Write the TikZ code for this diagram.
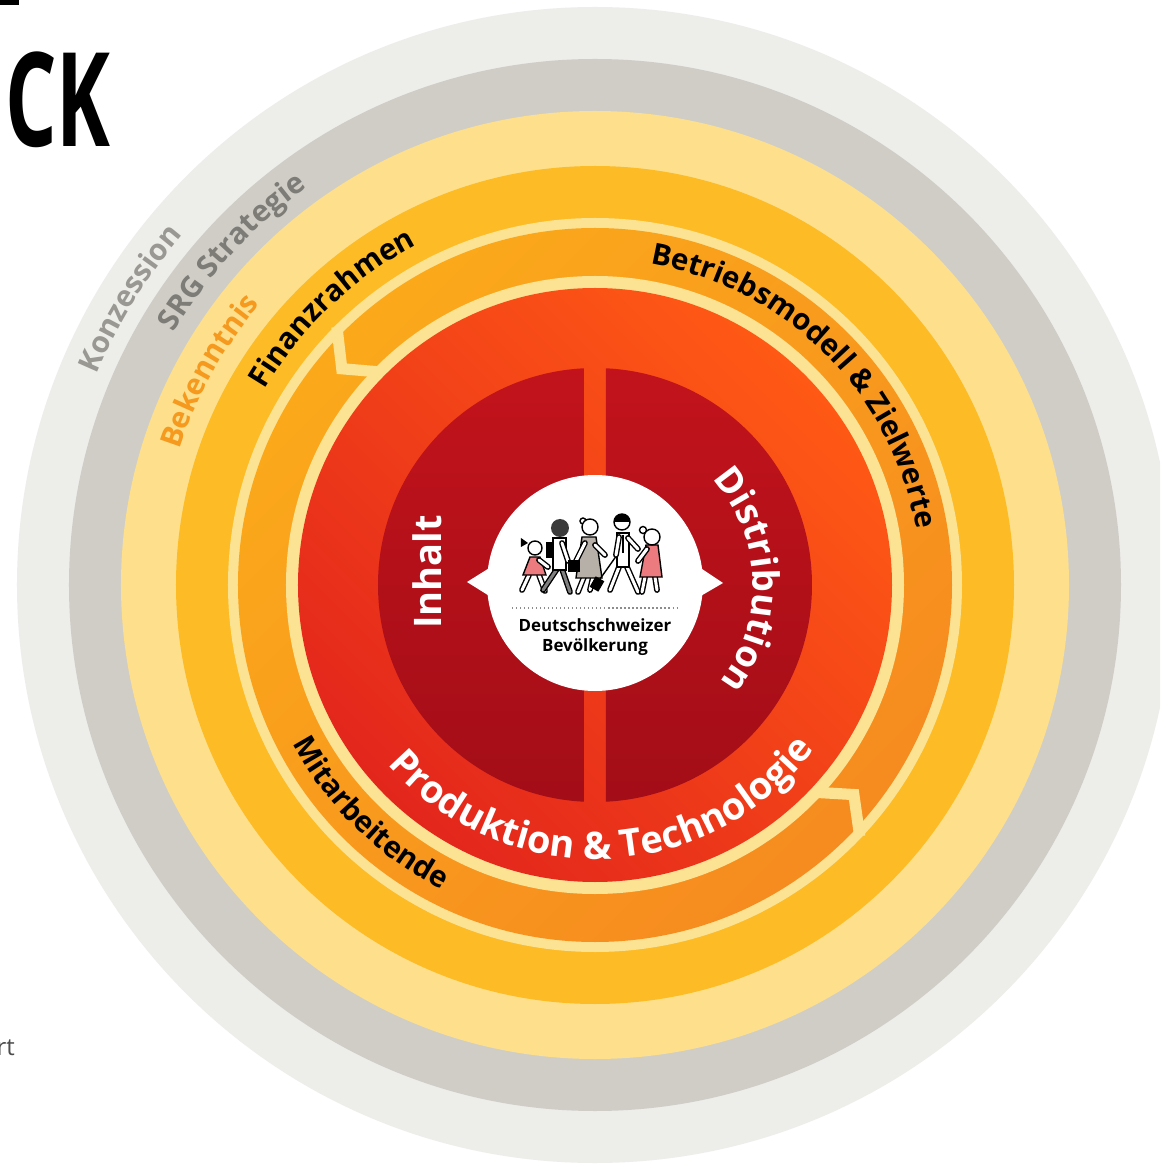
\documentclass[tikz,border=0pt]{standalone}
\usepackage{fontspec}
\setmainfont{Open Sans}
\usetikzlibrary{decorations.text}
\definecolor{ringlight}{HTML}{EDEDEA}
\definecolor{ringgrey}{HTML}{CFCDC6}
\definecolor{ringyellow}{HTML}{FEE08C}
\definecolor{ringgold}{HTML}{FDBB26}
\definecolor{cream}{HTML}{FCE293}
\definecolor{orangeL}{HTML}{FBA91B}
\definecolor{orangeR}{HTML}{F68B1F}
\definecolor{redL}{HTML}{E3261C}
\definecolor{redR}{HTML}{FF5915}
\definecolor{darkredT}{HTML}{C2131C}
\definecolor{darkredB}{HTML}{A30D17}
\definecolor{konzgrey}{HTML}{9A9893}
\definecolor{srggrey}{HTML}{7E7C77}
\definecolor{bekorange}{HTML}{F59A1E}
\definecolor{pinkdress}{HTML}{EC7B80}
\definecolor{coatgrey}{HTML}{B6B0A8}
\definecolor{hairgrey}{HTML}{3A3A3A}

\begin{document}
\begin{tikzpicture}[x=0.025cm,y=0.025cm,
  sep/.style={draw=cream,line width=0.28cm,line join=miter},
  arctext/.style={decorate,decoration={text along path,text align=center,#1}},
  outl/.style={draw=black,line width=0.035cm},
  limb/.style={draw=black,line width=0.035cm,double=#1,double distance=0.075cm,line cap=round},
  limb/.default=white]
\useasboundingbox (-595,-579) rectangle (565,585);
\clip (-595,-579) rectangle (565,585);
\fill[white] (-595,-579) rectangle (565,585);
% page fragments
\fill (-595,585) rectangle (-576,580);
\node[anchor=base west,inner sep=0,xscale=0.62,font=\fontsize{93}{93}\selectfont\bfseries] (ck) at (-590,438) {CK};
\node[anchor=base east,inner sep=0,text=black!70,font=\fontsize{17}{17}\selectfont] (rt) at (-580,-470) {rt};
% rings
\fill[ringlight] (0,0) circle (578);
\fill[ringgrey] (0,0) circle (526);
\fill[ringyellow] (0,0) circle (474);
\fill[ringgold] (0,0) circle (419);
\fill[cream] (0,0) circle (367);
\shade[top color=orangeL,bottom color=orangeR,shading angle=45] (0,0) circle (357);
\fill[cream] (0,0) circle (309);
\shade[top color=redR,bottom color=redL,shading angle=-45] (0,0) circle (297);
\begin{scope}
\clip (0,0) circle (217);
\shade[top color=darkredT,bottom color=darkredB] (-217,-217) rectangle (-11,217);
\shade[top color=darkredT,bottom color=darkredB] (11,-217) rectangle (217,217);
\end{scope}
% arrow joints
\draw[sep] (135:365) -- (139.5:333) -- (135:301);
\draw[sep] (-43.5:365) -- (-39:333) -- (-43.5:301);
% ring labels
\path[arctext={text={|\fontsize{21}{21}\selectfont\bfseries|Konzession},text color=konzgrey}]
  (168.4:541) arc[start angle=168.4,end angle=128.4,radius=541];
\path[arctext={text={|\fontsize{21}{21}\selectfont\bfseries|SRG Strategie},text color=srggrey}]
  (160:491) arc[start angle=160,end angle=115,radius=491];
\path[arctext={text={|\fontsize{21}{21}\selectfont\bfseries|Bekenntnis},text color=bekorange}]
  (175:437) arc[start angle=175,end angle=127,radius=437];
\path[arctext={text={|\fontsize{21}{21}\selectfont\bfseries|Finanzrahmen},text color=black}]
  (160:384) arc[start angle=160,end angle=107,radius=384];
\path[arctext={text={|\fontsize{21}{21}\selectfont\bfseries|Betriebsmodell {\&} Zielwerte},text color=black}]
  (95:326) arc[start angle=95,end angle=-5,radius=326];
\path[arctext={text={|\fontsize{21}{21}\selectfont\bfseries|Mitarbeitende},text color=black}]
  (-160:341) arc[start angle=-160,end angle=-109,radius=341];
\path[arctext={text={|\fontsize{27}{27}\selectfont\bfseries|Produktion {\&} Technologie},text color=white}]
  (-150:274) arc[start angle=-150,end angle=-26,radius=274];
\path[arctext={text={|\fontsize{26}{26}\selectfont\bfseries|Distribution},text color=white}]
  (50:158) arc[start angle=50,end angle=-46,radius=158];
\node[rotate=90,text=white,font=\fontsize{27}{27}\selectfont\bfseries] (inhalt) at (-168,13) {Inhalt};
% centre bubble
\fill[white] (0,2) circle (108);
\fill[white] (-104,18) -- (-128,3) -- (-104,-12) -- cycle;
\fill[white] (104,18) -- (128,2) -- (104,-12) -- cycle;
\draw[black!45,dotted,line width=0.03cm] (-83,-23) -- (83,-23);
\node[align=center,font=\fontsize{12}{14.2}\selectfont\bfseries] (bev) at (0,-52) {Deutschschweizer\\Bevölkerung};
% people
\draw[limb] (-66,10) -- (-73,-5);
\draw[limb] (-56,10) -- (-50,-6);
\filldraw[fill=pinkdress,outl] (-65,28) -- (-55,28) -- (-49,10) -- (-72,10) -- cycle;
\draw[limb] (-56,25) -- (-47,18);
\filldraw[fill=white,outl] (-60,37) circle (7);
\fill (-67,42) -- (-74,47) -- (-74,38) -- cycle;
\draw[limb=gray] (-38,16) -- (-52,-5);
\draw[limb=gray] (-33,16) -- (-25,-7);
\filldraw[fill=white,outl] (-42,47) rectangle (-29,15);
\fill (-49,43) rectangle (-41,27);
\draw[limb] (-33,42) -- (-27,24);
\fill[hairgrey] (-35,57) circle (9);
\draw[limb] (-11,8) -- (-17,-7);
\draw[limb] (-2,8) -- (-5,-5);
\filldraw[fill=coatgrey,outl] (-13,48) -- (1,48) -- (7,7) -- (-19,7) -- cycle;
\draw[limb] (-10,42) -- (-19,24);
\draw[limb] (0,40) -- (10,30);
\fill (-27,25) rectangle (-15,13);
\filldraw[fill=white,outl] (-12,64) circle (3);
\filldraw[fill=white,outl] (-5,58) circle (8);
\fill[rotate around={-30:(2,1)}] (-3,-5) rectangle (7,7);
\draw[outl] (5,6) -- (22,30);
\draw[limb] (24,18) -- (15,-5);
\draw[limb] (32,18) -- (43,-7);
\filldraw[fill=white,outl] (22,52) rectangle (34,18);
\draw[line width=0.06cm] (28,50) -- (28,32);
\draw[limb] (24,48) -- (21,30);
\draw[limb] (33,47) -- (43,36);
\filldraw[fill=white,outl] (27,63) circle (8);
\fill (19,63) arc[start angle=180,end angle=0,radius=8] -- cycle;
\draw[limb] (50,8) -- (47,-7);
\draw[limb] (60,8) -- (62,-5);
\filldraw[fill=pinkdress,outl] (51,40) -- (63,40) -- (67,8) -- (45,8) -- cycle;
\draw[limb] (52,36) -- (43,24);
\filldraw[fill=white,outl] (48,55) circle (3.5);
\filldraw[fill=white,outl] (57,48) circle (8);
\end{tikzpicture}
\end{document}
